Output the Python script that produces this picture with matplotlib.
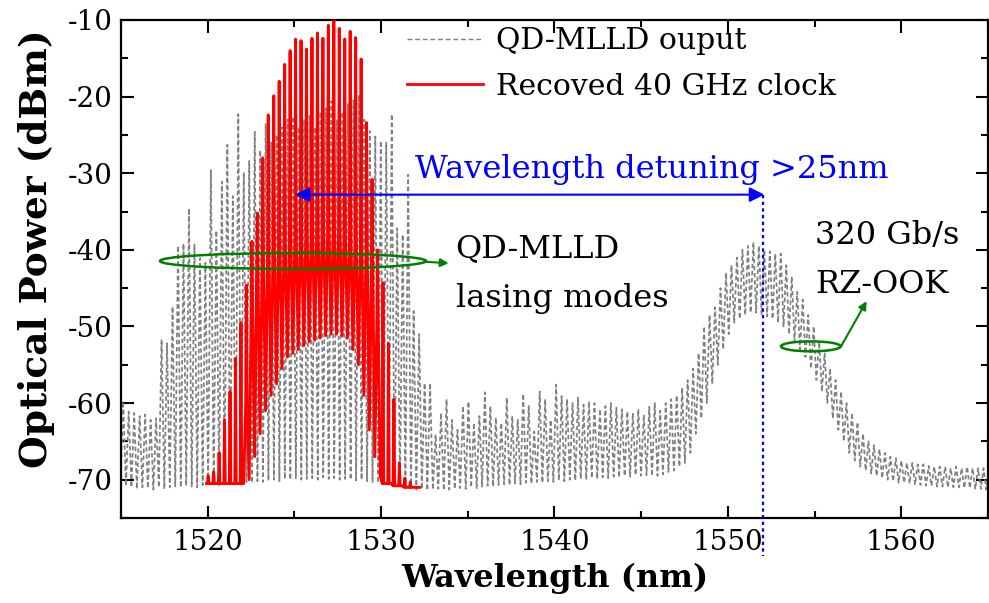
import matplotlib
matplotlib.use("Agg")
import matplotlib.pyplot as plt
from matplotlib.patches import Ellipse
from matplotlib.lines import Line2D
from matplotlib.ticker import MultipleLocator

plt.rcParams['font.family'] = 'DejaVu Serif'
plt.rcParams['axes.unicode_minus'] = False

# QD-MLLD output comb (one peak and one dip per 40 GHz mode)
grey_first = 1515.13
grey_spacing = 0.316
grey_peak = [
    -59.8, -61.1, -61.3, -61.7, -61.5, -62.2, -62.0, -51.7, -52.2, -47.4,
    -39.5, -39.2, -34.6, -39.3, -41.1, -41.7, -29.6, -37.5, -31.1, -26.3,
    -33.0, -22.3, -29.9, -28.4, -24.6, -27.0, -23.6, -26.0, -25.0, -24.0,
    -23.0, -22.6, -24.0, -23.0, -22.5, -24.0, -22.0, -21.5, -20.6, -23.0,
    -22.0, -21.0, -20.5, -19.8, -23.0, -24.5, -25.2, -25.8, -26.0, -22.3,
    -37.2, -38.0, -30.2, -48.0, -51.0, -57.4, -57.4, -64.1, -61.3, -59.5,
    -62.2, -63.5, -60.4, -59.8, -62.6, -61.7, -58.6, -60.4, -61.9, -62.6,
    -59.3, -61.7, -62.2, -58.8, -60.4, -63.7, -58.5, -59.5, -62.2, -57.6,
    -59.1, -59.5, -60.0, -59.3, -60.2, -59.8, -60.0, -60.8, -60.4, -60.0,
    -60.6, -60.8, -61.1, -61.3, -60.8, -61.5, -60.5, -60.0, -61.0, -60.0,
    -59.5, -59.0, -58.0, -57.0, -55.5, -53.5, -50.0, -48.5, -47.5, -45.0,
    -43.0, -42.0, -41.0, -40.0, -39.5, -39.0, -39.5, -40.0, -40.2, -40.5,
    -40.5, -42.0, -43.5, -45.5, -46.5, -48.5, -50.0, -52.0, -53.5, -55.5,
    -57.0, -58.5, -60.0, -61.3, -62.5, -64.0, -65.0, -65.5, -66.0, -66.5,
    -67.0, -67.2, -67.5, -67.8, -67.8, -68.0, -68.0, -68.2, -68.3, -68.3,
    -68.3, -68.5, -68.3, -68.5, -68.3, -68.5, -68.5, -68.5, -68.6,
]
grey_trough = [
    -70.8, -71.0, -71.2, -71.0, -71.1, -71.3, -71.0, -71.2, -71.0, -70.9,
    -71.0, -70.8, -70.9, -71.0, -70.7, -70.8, -70.6, -70.7, -70.5, -70.6,
    -70.4, -70.5, -70.3, -70.4, -70.2, -70.3, -70.1, -70.0, -70.2, -69.9,
    -70.0, -69.8, -70.0, -69.9, -69.8, -70.0, -69.7, -69.9, -69.8, -70.0,
    -69.9, -70.0, -70.1, -70.0, -70.2, -70.3, -70.4, -70.6, -70.5, -70.8,
    -70.9, -71.0, -71.1, -71.3, -71.2, -71.4, -71.3, -71.2, -71.4, -71.3,
    -71.2, -71.1, -71.2, -71.0, -71.1, -70.9, -70.8, -70.9, -70.7, -70.6,
    -70.7, -70.5, -70.6, -70.4, -70.5, -70.3, -70.4, -70.2, -70.3, -70.1,
    -70.2, -70.0, -70.1, -69.9, -70.0, -69.8, -69.9, -69.7, -69.8, -69.6,
    -69.7, -69.5, -69.6, -69.4, -69.5, -69.4, -69.5, -69.5, -69.3, -69.0,
    -68.8, -68.3, -67.8, -66.5, -64.0, -62.0, -60.0, -57.5, -55.0, -53.0,
    -51.0, -49.5, -49.0, -48.5, -48.2, -48.2, -48.5, -48.7, -49.0, -49.5,
    -50.0, -51.0, -52.0, -53.0, -54.0, -55.5, -57.0, -58.5, -60.0, -62.0,
    -63.5, -65.0, -66.5, -67.5, -68.3, -68.8, -69.2, -69.5, -69.8, -70.0,
    -70.2, -70.4, -70.4, -70.5, -70.6, -70.7, -70.8, -70.8, -70.9, -70.9,
    -71.0, -71.0, -71.0, -71.1, -71.1, -71.2, -71.2, -71.3, -71.3,
]

# recovered 40 GHz clock: peak, level between modes, and the sharp dip
red_start = 1519.94
red_end = 1532.24
red_first = 1520.03
red_spacing = 0.315
red_peak = [
    -69.5, -69.0, -66.5, -62.2, -58.5, -54.2, -49.5, -44.6, -38.9, -35.2,
    -28.0, -22.4, -19.9, -18.0, -15.8, -14.0, -12.5, -12.7, -13.8, -12.4,
    -11.7, -12.4, -10.7, -10.1, -11.1, -12.5, -11.5, -12.3, -15.1, -23.4,
    -30.8, -40.0, -44.3, -52.2, -59.5, -67.8, -69.8, -70.3,
]
red_shoulder = [
    -70.5, -70.5, -70.5, -70.5, -70.5, -70.5, -70.5, -60.0, -48.0, -44.0,
    -42.0, -41.0, -40.0, -40.0, -39.5, -39.0, -39.0, -38.5, -38.5, -38.0,
    -38.0, -38.0, -38.0, -38.0, -38.0, -38.5, -39.0, -39.5, -40.0, -41.0,
    -43.0, -50.0, -70.5, -70.5, -70.8, -70.8, -71.0, -71.0,
]
red_trough = [
    -70.5, -70.5, -70.5, -70.5, -70.5, -70.5, -70.5, -70.0, -67.0, -64.0,
    -61.0, -59.0, -57.5, -55.5, -54.0, -53.5, -53.0, -52.5, -52.0, -51.8,
    -51.5, -51.2, -51.0, -51.0, -51.2, -51.5, -53.0, -55.0, -59.0, -63.5,
    -67.0, -69.5, -70.5, -70.5, -70.8, -70.8, -71.0, -71.0,
]

#Build the grey comb: up to each mode peak, down to the dip half way to the next
grey_x = [grey_first - grey_spacing / 2]
grey_y = [grey_trough[0]]
for i in range(len(grey_peak)):
    x0 = grey_first + i * grey_spacing
    grey_x += [x0, x0 + grey_spacing / 2]
    grey_y += [grey_peak[i], grey_trough[i]]

#Red comb has narrow spikes sitting on a shoulder level
half_w = 0.04
red_x = [red_start]
red_y = [red_trough[0]]
for i in range(len(red_peak)):
    x0 = red_first + i * red_spacing
    red_x += [x0 - half_w, x0, x0 + half_w, x0 + red_spacing / 2]
    red_y += [red_shoulder[i], red_peak[i], red_shoulder[i], red_trough[i]]
red_x.append(red_end)
red_y.append(red_trough[-1])

fig = plt.figure(figsize=(9.89, 6.03), dpi=100)
ax = fig.add_axes([0.1223, 0.141, 0.8767, 0.8259])

grey_dash = (2.5, 1.6)
ax.plot(grey_x, grey_y, color='#808080', lw=1.25, dashes=grey_dash, zorder=2)
ax.plot(red_x, red_y, color='red', lw=2.1, zorder=3)

ax.set_xlim(1515, 1565)
ax.set_ylim(-75, -10)
ax.xaxis.set_major_locator(MultipleLocator(10))
ax.xaxis.set_minor_locator(MultipleLocator(5))
ax.yaxis.set_major_locator(MultipleLocator(10))
ax.yaxis.set_minor_locator(MultipleLocator(5))
ax.tick_params(which='both', direction='in', top=True, right=True, width=1.5)
ax.tick_params(which='major', length=9, labelsize=20)
ax.tick_params(which='minor', length=5)
ax.tick_params(axis='x', pad=8)
ax.tick_params(axis='y', pad=6)
for sp in ax.spines.values():
    sp.set_linewidth(1.6)

ax.set_xlabel('Wavelength (nm)', fontsize=23, fontweight='bold', labelpad=5)
ax.set_ylabel('Optical Power (dBm)', fontsize=27, fontweight='bold')
ax.yaxis.set_label_coords(-0.076, 0.54)

handles = [Line2D([], [], color='#808080', lw=1.0, dashes=(3.5, 2.0)),
           Line2D([], [], color='red', lw=2.0)]
ax.legend(handles, ['QD-MLLD ouput', 'Recoved 40 GHz clock'], loc='upper left',
          bbox_to_anchor=(0.330, 0.985), frameon=False, fontsize=21.5,
          handlelength=2.55, handletextpad=0.42, labelspacing=0.58,
          borderpad=0, borderaxespad=0)

#Blue detuning arrow and marker line
ax.annotate('', xy=(1525.03, -32.8), xytext=(1552.1, -32.8),
            arrowprops=dict(arrowstyle='<|-|>', color='blue', lw=1.5,
                            mutation_scale=22, shrinkA=0, shrinkB=0))
ax.plot([1552.05, 1552.05], [-32.8, -80], color='blue', lw=1.6,
        ls=(0, (1.5, 1.5)), clip_on=False, zorder=4)
ax.text(1531.95, -30.6, 'Wavelength detuning >25nm', color='blue', fontsize=23,
        va='baseline')

#Green markers
green = '#008000'
ax.add_patch(Ellipse((1524.92, -41.46), 15.34, 2.09, fill=False, ec=green, lw=1.8, zorder=5))
ax.annotate('', xy=(1533.9, -41.75), xytext=(1532.5, -41.55),
            arrowprops=dict(arrowstyle='-|>', color=green, lw=1.5,
                            mutation_scale=12, shrinkA=0, shrinkB=0))
ax.text(1534.3, -41.0, 'QD-MLLD', fontsize=23, va='baseline')
ax.text(1534.3, -47.4, 'lasing modes', fontsize=23, va='baseline')

ax.add_patch(Ellipse((1554.78, -52.6), 3.44, 1.3, fill=False, ec=green, lw=1.8, zorder=5))
ax.annotate('', xy=(1558.0, -46.7), xytext=(1556.5, -52.7),
            arrowprops=dict(arrowstyle='-|>', color=green, lw=1.5,
                            mutation_scale=12, shrinkA=0, shrinkB=0))
ax.text(1555.02, -39.3, '320 Gb/s', fontsize=23, va='baseline')
ax.text(1555.02, -45.6, 'RZ-OOK', fontsize=23, va='baseline')

fig.savefig('out.png', dpi=100)
